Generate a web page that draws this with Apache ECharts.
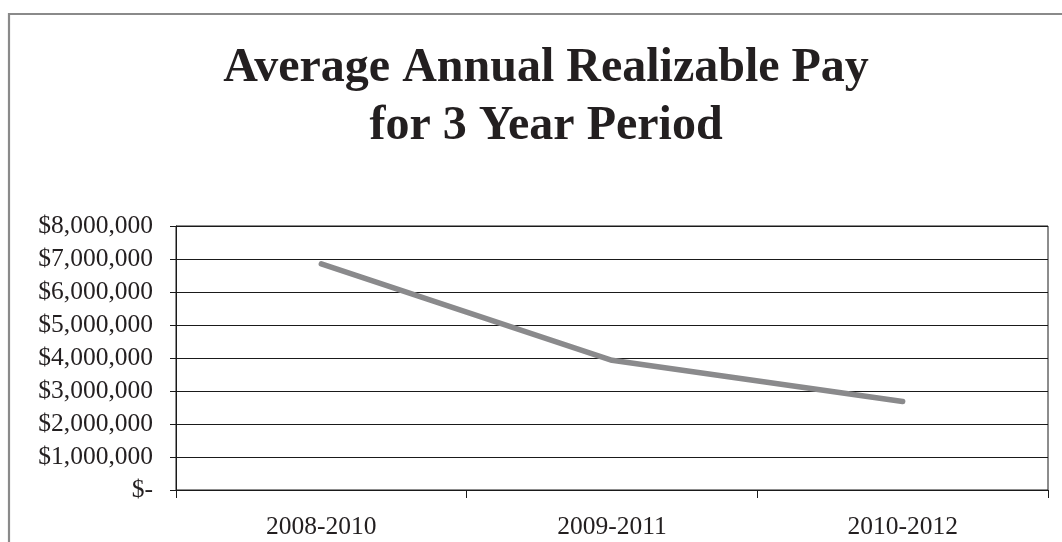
<!DOCTYPE html>
<html>
<head>
<meta charset="utf-8">
<script src="https://cdn.jsdelivr.net/npm/echarts@6/dist/echarts.min.js"></script>
<style>
html,body{margin:0;padding:0;background:#fff;}
#chart{width:1062px;height:542px;}
</style>
</head>
<body>
<div id="chart"></div>
<script>
const titleLines = ['Average Annual Realizable Pay', 'for 3 Year Period'];
const categories = ['2008-2010', '2009-2011', '2010-2012'];
const payValues = [6850000, 3930000, 2680000];
const yMin = 0, yMax = 8000000, yInterval = 1000000;

function fmtMoney(v) {
  if (v === 0) return '$-';
  return '$' + v.toLocaleString('en-US');
}

const chart = echarts.init(document.getElementById('chart'), null, {renderer: 'canvas'});
chart.setOption({
  backgroundColor: '#fff',
  animation: false,
  graphic: [{
    type: 'rect',
    shape: {x: 9, y: 14, width: 1100, height: 600},
    style: {fill: 'none', stroke: '#8a8a8a', lineWidth: 2.2},
    z: 0
  }],
  title: {
    text: titleLines.join('\n'),
    left: 541,
    top: 35,
    textAlign: 'center',
    textStyle: {
      fontFamily: '"Liberation Serif", "Times New Roman", serif',
      fontWeight: 'bold',
      fontSize: 48,
      lineHeight: 58,
      color: '#231f20'
    }
  },
  grid: {
    left: 176, right: 14, top: 226, bottom: 52,
    show: true, borderColor: '#1a1a1a', borderWidth: 1,
    containLabel: false
  },
  xAxis: {
    type: 'category',
    data: categories,
    boundaryGap: true,
    axisLine: {show: true, lineStyle: {color: '#1a1a1a', width: 1}},
    axisTick: {show: true, length: 8, alignWithLabel: false, lineStyle: {color: '#1a1a1a'}},
    axisLabel: {
      margin: 24,
      fontFamily: '"Liberation Serif", "Times New Roman", serif',
      fontSize: 25.5,
      color: '#231f20'
    },
    splitLine: {show: false}
  },
  yAxis: {
    type: 'value',
    min: yMin, max: yMax, interval: yInterval,
    axisLine: {show: true, lineStyle: {color: '#1a1a1a', width: 1}},
    axisTick: {show: true, length: 6, lineStyle: {color: '#1a1a1a'}},
    axisLabel: {
      margin: 23,
      formatter: fmtMoney,
      fontFamily: '"Liberation Serif", "Times New Roman", serif',
      fontSize: 25.5,
      color: '#231f20'
    },
    splitLine: {show: true, lineStyle: {color: '#1a1a1a', width: 1}}
  },
  series: [{
    type: 'line',
    data: payValues,
    symbol: 'none',
    lineStyle: {color: '#8a8a8c', width: 5.5, cap: 'round', join: 'round'},
    z: 3
  }]
});
</script>
</body>
</html>
